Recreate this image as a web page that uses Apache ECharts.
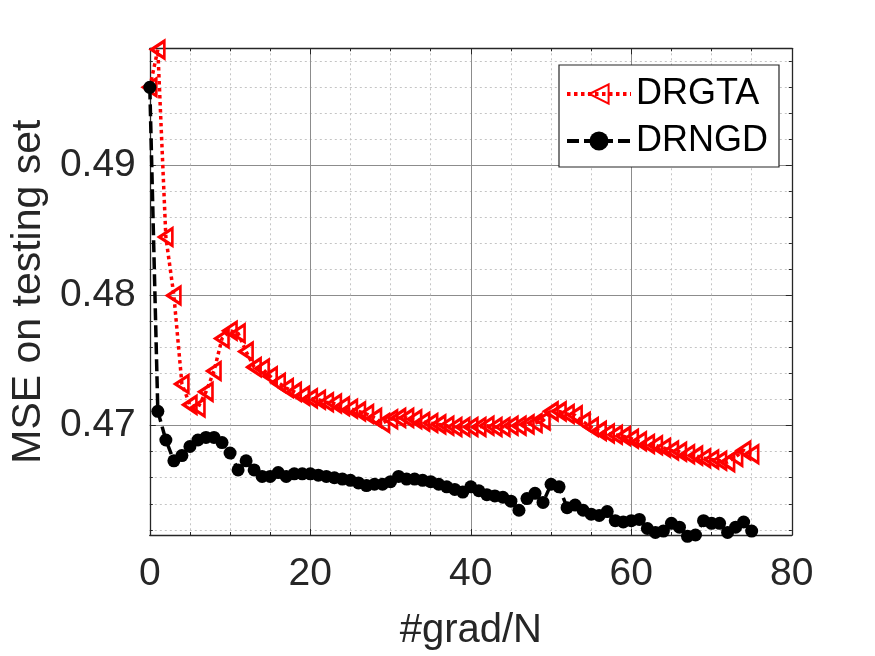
<!DOCTYPE html>
<html>
<head>
<meta charset="utf-8">
<script src="https://cdn.jsdelivr.net/npm/echarts@6/dist/echarts.min.js"></script>
<style>html,body{margin:0;padding:0;background:#fff;}#c{width:875px;height:656px;}</style>
</head>
<body>
<div id="c"></div>
<script>
var xValues = [];
for (var i = 0; i <= 75; i++) xValues.push(i);

var drgta = [0.4960,0.4989,0.4845,0.4800,0.4732,0.4716,0.4714,0.4726,0.4742,0.4767,
0.4773,0.4771,0.4757,0.4745,0.4744,0.4738,0.4733,0.4729,0.4726,0.4723,
0.4721,0.4720,0.4718,0.4717,0.4715,0.4713,0.4711,0.4709,0.4706,0.4702,
0.4705,0.4706,0.4706,0.4705,0.4703,0.4702,0.4701,0.4700,0.4699,0.4699,
0.4699,0.4699,0.4700,0.4699,0.4699,0.4700,0.4700,0.4701,0.4702,0.4704,
0.4711,0.4711,0.4709,0.4708,0.4703,0.4699,0.4696,0.4694,0.4693,0.4692,
0.4690,0.4688,0.4686,0.4685,0.4683,0.4681,0.4680,0.4678,0.4677,0.4675,
0.4674,0.4673,0.4672,0.4676,0.4681,0.4678];

var drngd = [0.4960,0.4711,0.4689,0.4673,0.4677,0.4684,0.4689,0.4691,0.4691,0.4687,
0.4679,0.4666,0.4673,0.4666,0.4661,0.4661,0.4664,0.4661,0.4663,0.4663,
0.4663,0.4662,0.4661,0.4660,0.4659,0.4658,0.4656,0.4654,0.4655,0.4655,
0.4657,0.4661,0.4659,0.4659,0.4658,0.4657,0.4655,0.4653,0.4651,0.4649,
0.4653,0.4650,0.4647,0.4646,0.4645,0.4642,0.4635,0.4644,0.4648,0.4641,
0.4655,0.4653,0.4637,0.4639,0.4635,0.4632,0.4631,0.4634,0.4627,0.4626,
0.4627,0.4628,0.4621,0.4618,0.4619,0.4625,0.4622,0.4615,0.4616,0.4627,
0.4625,0.4625,0.4618,0.4622,0.4626,0.4619];

var seriesNames = ['DRGTA', 'DRNGD'];
var xAxisRange = [0, 80];
var xTickStep = 20;
var yAxisRange = [0.4616, 0.4990];
var yTickStep = 0.01;

function pairs(xs, ys) { return xs.map(function (x, i) { return [x, ys[i]]; }); }

var font = 'Liberation Sans, Arial, Helvetica, sans-serif';
var axisCol = '#262626';

function baseX(pos, showLabel) {
  return {
    type: 'value', position: pos, min: xAxisRange[0], max: xAxisRange[1], interval: xTickStep,
    axisLine: { show: true, onZero: false, lineStyle: { color: axisCol, width: 1.3 } },
    axisTick: { show: true, inside: true, length: 6, lineStyle: { color: axisCol, width: 1 } },
    minorTick: { show: true, splitNumber: 4, length: 3, lineStyle: { color: axisCol, width: 1 } },
    axisLabel: { show: showLabel, color: axisCol, fontSize: 39, fontFamily: font, margin: 20 },
    splitLine: { show: showLabel, lineStyle: { color: '#8c8c8c', width: 1 } },
    minorSplitLine: { show: showLabel, lineStyle: { color: '#c4c4c4', width: 1, type: [2, 3] } }
  };
}
function baseY(pos, showLabel) {
  return {
    type: 'value', position: pos, min: yAxisRange[0], max: yAxisRange[1],
    minInterval: yTickStep, maxInterval: yTickStep,
    axisLine: { show: true, onZero: false, lineStyle: { color: axisCol, width: 1.3 } },
    axisTick: { show: true, inside: true, length: 6, lineStyle: { color: axisCol, width: 1 } },
    minorTick: { show: true, splitNumber: 5, length: 3, lineStyle: { color: axisCol, width: 1 } },
    axisLabel: { show: showLabel, color: axisCol, fontSize: 39, fontFamily: font, margin: 14,
      showMinLabel: false, showMaxLabel: false,
      formatter: function (v) { return v.toFixed(2); } },
    splitLine: { show: showLabel, showMinLine: false, showMaxLine: false, lineStyle: { color: '#8c8c8c', width: 1 } },
    minorSplitLine: { show: showLabel, lineStyle: { color: '#c4c4c4', width: 1, type: [2, 3] } }
  };
}

var xa = baseX('bottom', true);
xa.name = '#grad/N'; xa.nameLocation = 'middle'; xa.nameGap = 76;
xa.nameTextStyle = { color: axisCol, fontSize: 40, fontFamily: font };
var xb = baseX('top', false);
var ya = baseY('left', true);
ya.name = 'MSE on testing set'; ya.nameLocation = 'middle'; ya.nameGap = 100;
ya.nameTextStyle = { color: axisCol, fontSize: 41, fontFamily: font };
var yb = baseY('right', false);

var chart = echarts.init(document.getElementById('c'), null, { renderer: 'canvas' });
chart.setOption({
  animation: false,
  backgroundColor: '#fff',
  grid: { left: 149.3, right: 83.2, top: 48.3, bottom: 116.7, containLabel: false },
  xAxis: [xa, xb],
  yAxis: [ya, yb],
  legend: {
    left: 559, top: 65, orient: 'vertical',
    backgroundColor: '#fff', borderColor: axisCol, borderWidth: 1.2,
    padding: [9, 11, 6, 6], itemGap: 7, itemWidth: 64, itemHeight: 24,
    lineStyle: { width: 4 },
    textStyle: { color: '#000', fontSize: 36, fontFamily: font, lineHeight: 40 },
    data: seriesNames
  },
  series: [
    {
      name: seriesNames[0], type: 'line', xAxisIndex: 0, yAxisIndex: 0,
      data: pairs(xValues, drgta), clip: false,
      symbol: 'triangle', symbolSize: [17, 13], symbolRotate: 90,
      lineStyle: { color: '#ff0000', width: 3.5, type: [3.5, 3.5] },
      itemStyle: { color: 'rgba(255,0,0,0)', borderColor: '#ff0000', borderWidth: 3 },
      z: 2
    },
    {
      name: seriesNames[1], type: 'line', xAxisIndex: 0, yAxisIndex: 0,
      data: pairs(xValues, drngd), clip: false,
      symbol: 'circle', symbolSize: 13,
      lineStyle: { color: '#000', width: 3.5, type: [12, 5] },
      itemStyle: { color: '#000', borderColor: '#000', borderWidth: 0 },
      z: 3
    }
  ]
});
</script>
</body>
</html>
